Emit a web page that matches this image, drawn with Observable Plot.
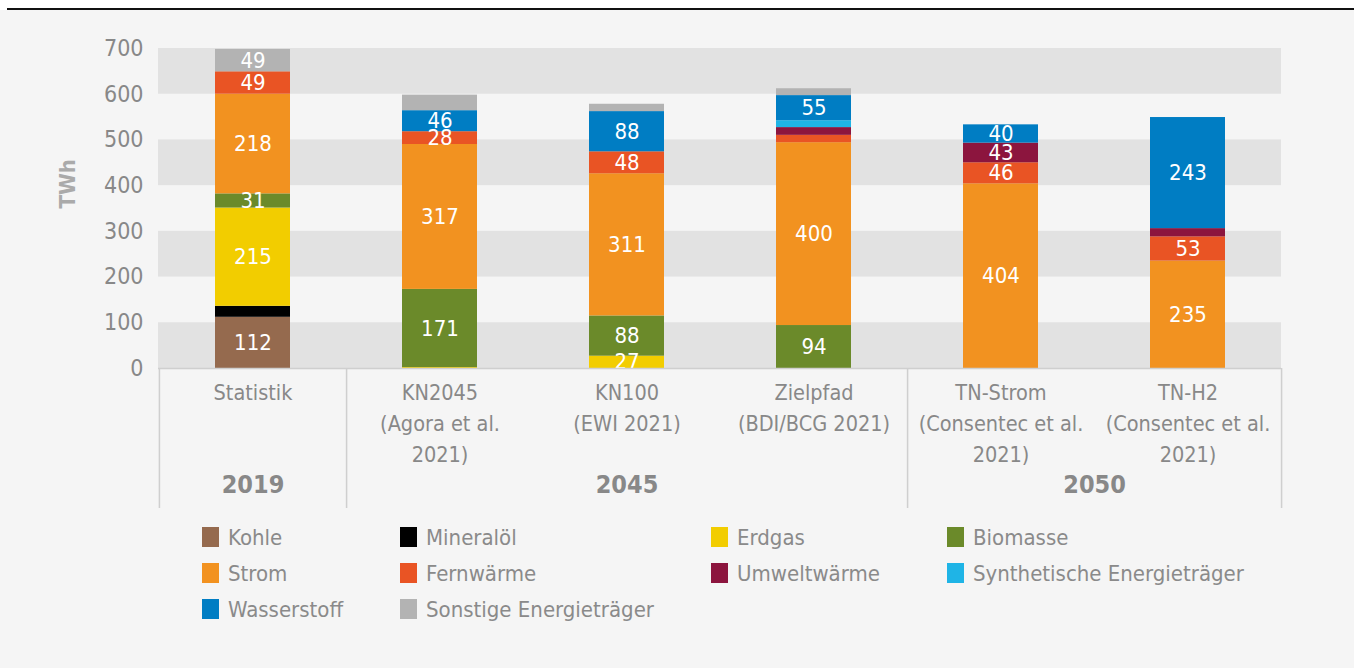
<!DOCTYPE html>
<html>
<head>
<meta charset="utf-8">
<script src="https://cdn.jsdelivr.net/npm/d3@7"></script>
<script src="https://cdn.jsdelivr.net/npm/@observablehq/plot@0.6"></script>
<style>
  html, body { margin: 0; padding: 0; background: #ffffff; width: 1354px; height: 668px; overflow: hidden; }
  .font { font-family: "Liberation Sans Narrow", "DejaVu Sans Condensed", "Open Sans", sans-serif; }
  #rule { position: absolute; left: 7px; right: 0; top: 8px; height: 2px; background: #111; }
  #panel { position: absolute; left: 0; right: 0; top: 10px; bottom: 0; background: #f5f5f5; }
  #chart { position: absolute; left: 0; top: 0; }
  #legend { position: absolute; left: 202px; top: 509px; display: grid;
            grid-template-columns: 198px 311px 236px auto; grid-auto-rows: 36px;
            font-size: 22px; color: #8a8a8a; }
  .item { display: flex; align-items: center; white-space: nowrap; }
  .sw { width: 17px; height: 20px; margin-right: 9px; flex: none; }
</style>
</head>
<body>
<div id="rule"></div>
<div id="panel" class="font">
  <div id="chart"></div>
  <div id="legend"></div>
</div>
<script>
// ---- data ----
const categories = ["Statistik", "KN2045", "KN100", "Zielpfad", "TN-Strom", "TN-H2"];
const categoryLabels = ["Statistik", "KN2045\n(Agora et al.\n2021)", "KN100\n(EWI 2021)", "Zielpfad\n(BDI/BCG 2021)", "TN-Strom\n(Consentec et al.\n2021)", "TN-H2\n(Consentec et al.\n2021)"];
const groupYears = ["2019", "2045", "2050"];
const groupAnchors = ["Statistik", "KN100", "TN-Strom"];
const groupShift = [0, 0, 0.5];
const series = ["Kohle", "Mineralöl", "Erdgas", "Biomasse", "Strom", "Fernwärme", "Umweltwärme", "Synthetische Energieträger", "Wasserstoff", "Sonstige Energieträger"];
const seriesColors = ["#956a4e", "#000000", "#f2cd00", "#6b8a2a", "#f29220", "#e95424", "#8c153e", "#1fb4e6", "#007dc3", "#b3b3b3"];
const kohle        = [112,   0,   0,   0,   0,   0];
const mineraloel   = [ 24,   0,   0,   0,   0,   0];
const erdgas       = [215,   2,  27,   0,   0,   0];
const biomasse     = [ 31, 171,  88,  94,   0,   0];
const strom        = [218, 317, 311, 400, 404, 235];
const fernwaerme   = [ 49,  28,  48,  16,  46,  53];
const umweltwaerme = [  0,   0,   0,  17,  43,  18];
const synthetisch  = [  0,   0,   0,  15,   0,   0];
const wasserstoff  = [  0,  46,  88,  55,  40, 243];
const sonstige     = [ 49,  34,  16,  15,   0,   0];
const hiddenLabels = ["Statistik|Mineralöl", "KN2045|Erdgas", "KN2045|Sonstige Energieträger", "KN100|Sonstige Energieträger",
  "Zielpfad|Fernwärme", "Zielpfad|Umweltwärme", "Zielpfad|Synthetische Energieträger", "Zielpfad|Sonstige Energieträger", "TN-H2|Umweltwärme"];
const yTicks = [0, 100, 200, 300, 400, 500, 600, 700];
const yBands = [[0, 100], [200, 300], [400, 500], [600, 700]];
const yLabel = "TWh";

const seriesValues = [kohle, mineraloel, erdgas, biomasse, strom, fernwaerme, umweltwaerme, synthetisch, wasserstoff, sonstige];
const rows = [];
series.forEach((s, i) => categories.forEach((c, j) => {
  rows.push({cat: c, series: s, value: seriesValues[i][j],
             label: (seriesValues[i][j] > 0 && !hiddenLabels.includes(c + "|" + s)) ? String(seriesValues[i][j]) : null});
}));
const groups = groupYears.map((g, i) => ({year: g, cat: groupAnchors[i], shift: groupShift[i]}));

const W = 1354, mL = 158, mR = 73, mT = 38, mB = 142, H = mT + 320 + mB;
const step = (W - mL - mR) / categories.length;
const font = '"Liberation Sans Narrow", "DejaVu Sans Condensed", "Open Sans", sans-serif';

const plot = Plot.plot({
  width: W, height: H,
  marginLeft: mL, marginRight: mR, marginTop: mT, marginBottom: mB,
  style: {background: "transparent", fontFamily: font, overflow: "visible"},
  x: {domain: categories, paddingInner: 0.6, paddingOuter: 0.3, axis: null},
  y: {domain: [0, 700], axis: null},
  color: {domain: series, range: seriesColors},
  marks: [
    Plot.rectY(yBands, {y1: d => d[0], y2: d => d[1], fill: "#e2e2e2"}),
    Plot.axisY({ticks: yTicks, tickSize: 0, tickPadding: 15, fontSize: 23, fill: "#888", label: null}),
    Plot.text([yLabel], {frameAnchor: "left", dx: -91, rotate: -90, fontSize: 22, fontWeight: "bold", fill: "#aaa", text: d => d}),
    Plot.barY(rows, {x: "cat", y: "value", fill: "series", order: series}),
    Plot.text(rows, Plot.stackY({x: "cat", y: "value", z: "series", order: series, text: "label", fill: "white", fontSize: 22})),
    Plot.ruleY([0], {stroke: "#cfcfcf", strokeWidth: 1.5}),
    Plot.ruleX([categories[0]], {dx: -step / 2, insetTop: 320, insetBottom: -140, stroke: "#cfcfcf", strokeWidth: 1.5}),
    Plot.ruleX([categories[0], categories[3], categories[5]], {dx: step / 2, insetTop: 320, insetBottom: -140, stroke: "#cfcfcf", strokeWidth: 1.5}),
    Plot.text(categories, {x: d => d, text: (d, i) => categoryLabels[i], frameAnchor: "bottom", lineAnchor: "top", dy: 10, lineHeight: 1.43, fontSize: 21.5, fill: "#888"}),
    Plot.text(groups.filter(g => g.shift === 0), {x: "cat", text: "year", frameAnchor: "bottom", dy: 124, fontSize: 25, fontWeight: "bold", fill: "#888"}),
    Plot.text(groups.filter(g => g.shift !== 0), {x: "cat", text: "year", dx: step * 0.5, frameAnchor: "bottom", dy: 124, fontSize: 25, fontWeight: "bold", fill: "#888"})
  ]
});
document.getElementById("chart").appendChild(plot);

const legend = document.getElementById("legend");
series.forEach((s, i) => {
  const it = document.createElement("div");
  it.className = "item";
  it.innerHTML = `<span class="sw" style="background:${seriesColors[i]}"></span><span>${s}</span>`;
  legend.appendChild(it);
});
</script>
</body>
</html>
